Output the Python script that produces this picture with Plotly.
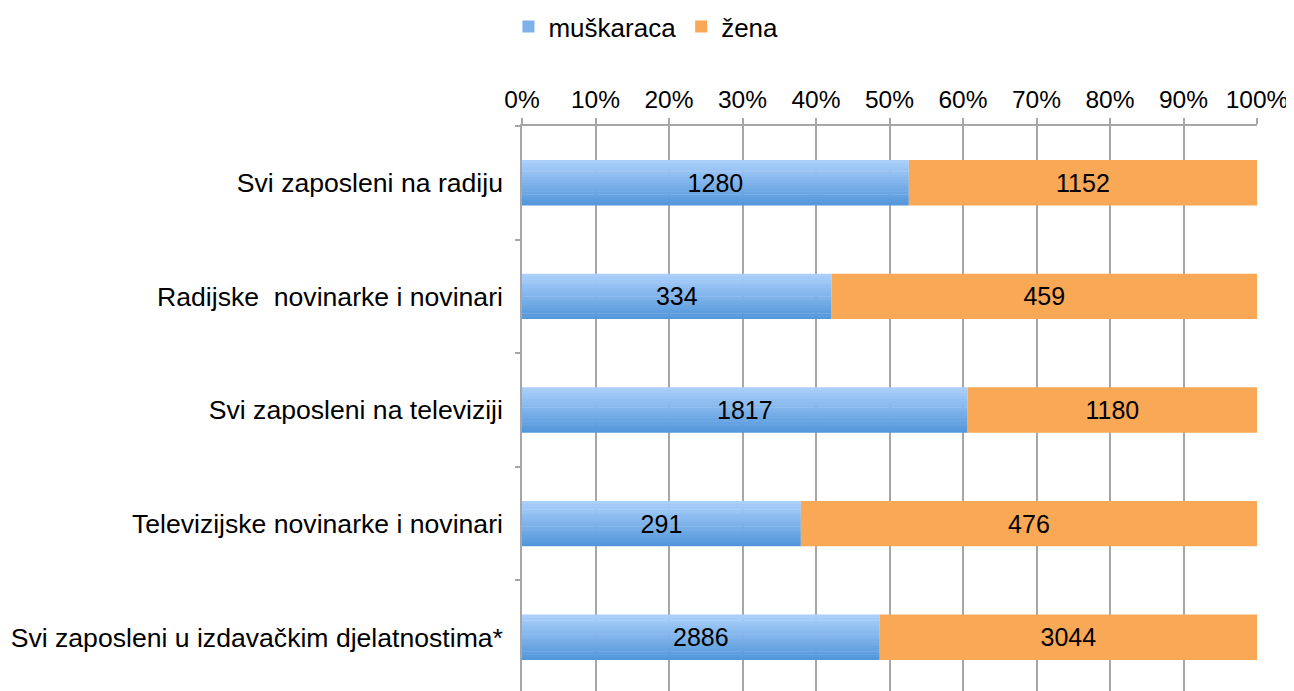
import plotly.graph_objects as go

categories = [
    "Svi zaposleni na radiju",
    "Radijske  novinarke i novinari",
    "Svi zaposleni na televiziji",
    "Televizijske novinarke i novinari",
    "Svi zaposleni u izdavačkim djelatnostima*",
]
men = [1280, 334, 1817, 291, 2886]
women = [1152, 459, 1180, 476, 3044]
series_names = ["muškaraca", "žena"]
tick_vals = [i / 10 for i in range(11)]

men_share = [m / (m + w) for m, w in zip(men, women)]
women_share = [w / (m + w) for m, w in zip(men, women)]

FONT = "Liberation Sans, Arial, Helvetica, sans-serif"
BAR_W = 0.4
N = 16
top_rgb = (170, 207, 250)
bot_rgb = (84, 151, 219)

fig = go.Figure()

for i in range(N):
    t = i / (N - 1)
    c = tuple(round(a + (b - a) * t) for a, b in zip(top_rgb, bot_rgb))
    w = BAR_W / N
    fig.add_trace(go.Bar(
        y=categories, x=men_share, orientation="h",
        width=w * 1.15 if i < N - 1 else w,
        offset=-BAR_W / 2 + i * w,
        marker=dict(color="rgb(%d,%d,%d)" % c, line=dict(width=0)),
        name=series_names[0],
        showlegend=(i == N // 2),
        legendrank=1,
        hoverinfo="skip",
    ))

# labels for men (transparent carrier bar)
fig.add_trace(go.Bar(
    y=categories, x=men_share, orientation="h", width=BAR_W,
    marker=dict(color="rgba(0,0,0,0)", line=dict(width=0)),
    text=[str(v) for v in men], textposition="inside",
    insidetextanchor="middle",
    textfont=dict(family=FONT, size=25, color="#000000"),
    showlegend=False, hoverinfo="skip",
))

fig.add_trace(go.Bar(
    y=categories, x=women_share, base=men_share, orientation="h", width=BAR_W,
    marker=dict(color="#f9a856", line=dict(width=0)),
    name=series_names[1], legendrank=2,
    text=[str(v) for v in women], textposition="inside",
    insidetextanchor="middle",
    textfont=dict(family=FONT, size=25, color="#000000"),
    hoverinfo="skip",
))

fig.update_layout(
    width=1294, height=691,
    barmode="overlay",
    paper_bgcolor="white", plot_bgcolor="white",
    margin=dict(l=514, r=45, t=118, b=5, autoexpand=False),
    font=dict(family=FONT, size=25, color="#000000"),
    uniformtext=dict(mode="show", minsize=10),
    showlegend=True,
    legend=dict(
        orientation="h", xref="container", yref="paper",
        x=0.493, xanchor="center", y=1.2165, yanchor="top",
        font=dict(family=FONT, size=26, color="#000000"),
        itemwidth=30, tracegroupgap=0,
        bgcolor="rgba(0,0,0,0)",
    ),
    xaxis=dict(
        side="top", range=[0, 1], tickvals=tick_vals, tickformat=".0%",
        showgrid=True, gridcolor="#a6a6a6", gridwidth=1.5,
        showline=True, linecolor="#a6a6a6", linewidth=1.5,
        ticks="outside", ticklen=6, tickcolor="#a6a6a6", tickwidth=1.5,
        zeroline=False, fixedrange=True, automargin=False,
        tickfont=dict(family=FONT, size=24.5, color="#000000"),
    ),
    yaxis=dict(
        type="category", categoryorder="array", categoryarray=categories,
        autorange="reversed", tickson="boundaries",
        showgrid=False, showline=True, linecolor="#a6a6a6", linewidth=1.5,
        ticks="outside", ticklen=5, tickcolor="#a6a6a6", tickwidth=1.5,
        ticklabelstandoff=12, zeroline=False, automargin=False,
        tickfont=dict(family=FONT, size=26.6, color="#000000"),
    ),
)

fig.write_html("out.html")
